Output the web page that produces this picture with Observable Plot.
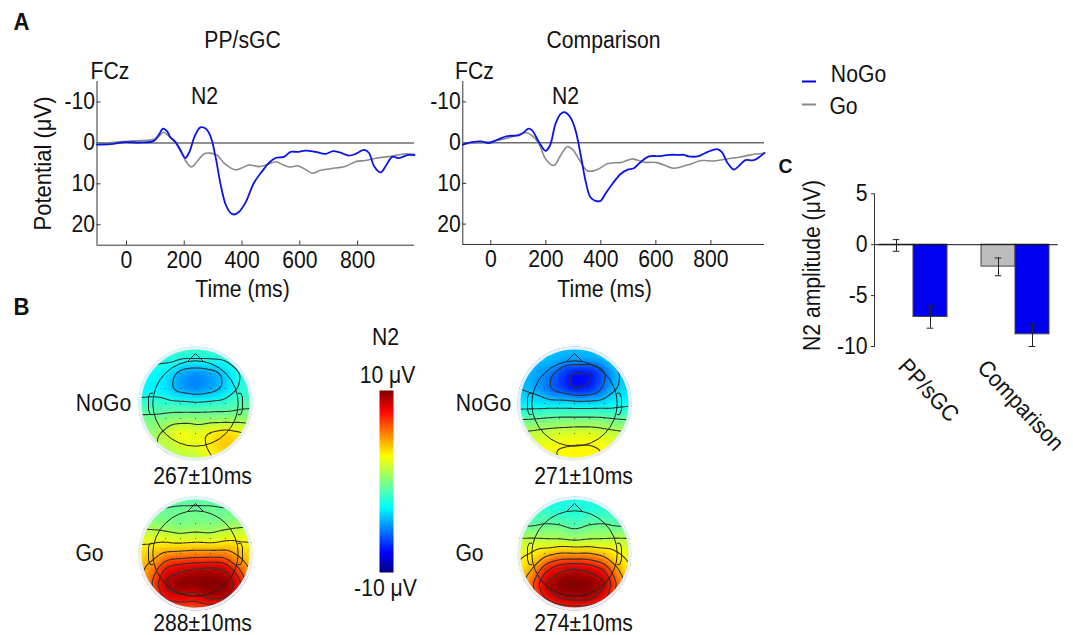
<!DOCTYPE html>
<html>
<head>
<meta charset="utf-8">
<script src="https://cdn.jsdelivr.net/npm/d3@7"></script>
<script src="https://cdn.jsdelivr.net/npm/@observablehq/plot@0.6"></script>
<style>
html,body{margin:0;padding:0;background:#fff}
#page{position:relative;width:1073px;height:635px;overflow:hidden;background:#fff}
#page svg{position:absolute}
</style>
</head>
<body>
<div id="page"></div>
<script>
// ---------- Panel A: event-related potentials at FCz ----------
const ppNoGoTime = [-102,-55,-3,48,95,112,127,141,152,170,187,204,219,236,256,274,291,308,326,343,360,372,389,412,441,470,493,516,545,568,591,620,655,689,715,741,770,793,822,839,857,880,897,920,943,972,997];
const ppNoGo = [0.4,0.3,-0.2,-0.1,-0.5,-2,-3.5,-2.8,-1.4,-0.2,1.9,3.7,2,-1.6,-3.8,-3.5,-1.6,3.3,10.2,15,17.1,17.5,16.9,14.6,9.8,6.9,4.9,3.7,3.4,2.2,2.2,1.9,2.2,2.7,2,2.4,3.1,2.7,1.7,2.4,5.7,7.2,5.7,3.4,3.7,3,3];
const ppGoTime = [-102,-3,95,112,129,147,170,187,204,225,245,268,291,314,337,360,378,401,424,459,488,517,540,564,592,620,643,672,707,759,793,828,868,914,961,997];
const ppGo = [0.2,-0.4,-0.9,-1.6,-2.6,-1.6,0,1.6,4.3,5.9,4.5,2.7,2.5,3,4.9,6.1,6.6,6.1,5.4,5.8,5.3,4.6,5.3,5.9,5.6,6.5,7.4,6.7,6.3,5.7,4.6,4.3,3.7,3.3,2.7,2.8];
const cmpNoGoTime = [-102,-68,-38,-7,23,59,102,120,135,150,175,199,215,235,253,268,290,308,326,344,362,381,399,417,441,472,496,520,544,575,617,647,684,702,720,756,781,823,841,859,884,902,926,956,995];
const cmpNoGo = [0.5,-0.1,-0.3,0.1,-0.7,-1.6,-1.8,-2.5,-3.4,-3,-0.1,2,0.7,-4.6,-7,-7.5,-6.1,-3,2.8,9.3,13.4,14.3,14.3,12.5,10.2,7.7,6.7,6.3,4.8,3.4,3.3,3,3,3,3.4,3.3,2.5,1.6,2.4,4.8,6.6,5.7,4.3,4.3,2.5];
const cmpGoTime = [-102,-1,59,102,126,150,175,199,229,253,278,296,320,350,375,399,423,478,514,556,605,665,714,768,811,859,902,944,995];
const cmpGo = [0.3,-0.2,-1.1,-2,-2.5,-1.7,0.3,4,5.6,3.2,1,1.6,4,6.9,6.9,6.2,5.2,4.8,4,4.8,4.9,6.3,5.5,4.4,4.5,4,3.6,3,2.6];
const timeTicks = [0,200,400,600,800];
const potentialTicks = [-10,0,10,20];

// ---------- Panel C: N2 amplitude ----------
const barKeys = ["PP/sGC Go","PP/sGC NoGo","gap","Comparison Go","Comparison NoGo"];
const barValues = [-0.05,-7.1,null,-2.15,-8.8];
const barLow = [-0.65,-8.2,null,-3.05,-10];
const barHigh = [0.5,-6.0,null,-1.3,-7.8];
const barColors = ["#bdbdbd","#0000f0",null,"#bdbdbd","#0000f0"];
const amplitudeTicks = [5,0,-5,-10];

// ---------- Panel B: scalp potential, estimated on a grid (rows top to bottom) ----------
const gridX = [-1.4,-1.05,-0.7,-0.35,0,0.35,0.7,1.05,1.4];
const gridY = [1.4,1.05,0.7,0.35,0,-0.35,-0.7,-1.05,-1.4];
const ppNoGoMap = [
 -1.4,-1.4,-1.4,-1.4,-1.4,-1.4,-1.4,-1.4,-1.4,
 -1.9,-1.9,-2,-2.1,-2.1,-2.1,-2,-1.9,-1.8,
 -2.8,-2.7,-3,-4.7,-5.2,-4.7,-3.8,-2.2,-1.9,
 -3.2,-3,-3.4,-4.8,-5.4,-4.8,-3.8,-2,-1.6,
 -1.7,-1.7,-1.7,-1.8,-2,-1.8,-1.6,-1.2,-1,
 -0.2,-0.2,0,0.2,0.3,0.3,0.2,0.4,0.4,
 0.4,0.5,1.6,2.9,2.2,3.2,3.8,3.2,2.4,
 0.9,0.9,1.1,1.8,2,3.1,4,3.8,3,
 1,1,1,1,1.1,2.4,3.2,3.3,3];
const ppGoMap = [
 -1,-1,-1,-1,-1,-1,-1,-1,-1,
 -0.7,-0.7,-0.6,-0.5,-0.5,-0.5,-0.6,-0.7,-0.7,
 0.8,0.4,0,-0.4,0,-0.2,0.2,0.6,0.8,
 2.3,2.1,2.2,1.8,2,1.8,2.4,2.4,2.5,
 3.2,3.8,4.8,5,5.2,5.2,5.2,4,3,
 3.6,5,7.8,8.5,8.9,9.2,8.8,6,3.6,
 3.6,6,9.3,10,10,10,10,8,4,
 3.5,5,8,8.4,8,9.2,9.2,7,4.5,
 3,3.5,4.5,5,5,5,4.5,4,3.5];
const cmpNoGoMap = [
 -3.5,-3.7,-3.9,-4,-4.1,-4,-3.9,-3.7,-3.5,
 -3.8,-3.9,-3.9,-4.2,-4.3,-4.3,-3.9,-3.8,-3.6,
 -4,-4.2,-5,-6.4,-7.8,-7.8,-6,-3.9,-3.6,
 -4,-4.3,-5.3,-6.6,-7.8,-7.3,-5.5,-3.8,-3.4,
 -3.3,-3.2,-3.2,-3.2,-3.3,-3.3,-3.2,-2.8,-2.5,
 -0.8,-0.7,-0.5,-0.3,-0.3,-0.3,-0.4,-0.7,-0.9,
 1.4,1.5,1.8,2,2.2,2.2,1.8,1.5,1.3,
 1.8,2.2,2.6,2.9,3,3,2.8,2.4,2,
 2.5,2.6,2.7,2.8,2.8,2.8,2.7,2.6,2.5];
const cmpGoMap = [
 -2.2,-2.2,-2.2,-2.2,-2.2,-2.2,-2.2,-2.2,-2.2,
 -2,-2,-2,-2.2,-2.2,-2.2,-2,-2,-2,
 -1.2,-1,-0.6,-0.7,-1.3,-0.7,-0.6,-1,-1.2,
 1.2,1.2,1,0.9,0.5,0.9,1,1.2,1.2,
 2.2,2.8,3.8,4.6,4.5,4.6,3.8,2.8,2.2,
 2.6,4,7,8.5,9,8.5,7.4,4.2,2.6,
 2.8,5.5,9,10,10,10,9.4,5.6,3,
 2.8,4.6,7.6,9,9.4,9.4,8,5,3.2,
 3,3.5,4.5,5.5,5.8,5.5,5,4,3.2];
const contourLevels = [-7.4,-5.7,-4,-2.3,-0.6,1.1,2.8,4.5,6.2,7.5,8.8];
const jetStops = [-10,-7.8,-2.8,0,2.8,7.8,10];
const jetColors = ["#00007f","#0000ff","#00ffff","#80ff80","#ffff00","#ff0000","#7f0000"];
const noseOutline = [[-0.17,1],[0,1.17],[0.17,1]];
const earOutline = [[1,0.24],[1.06,0.24],[1.1,0.15],[1.1,-0.15],[1.06,-0.26],[1,-0.26]];

// ---------- Text ----------
const FONT = "'Liberation Sans',Arial,sans-serif";
const boldLabels = [
 {t:"A",x:21,y:22,s:24,r:0},{t:"B",x:21,y:307,s:24,r:0},{t:"C",x:785,y:166,s:21,r:0}
];
const plainLabels = [
 {t:"PP/sGC",x:242,y:40,s:23,r:0},{t:"Comparison",x:603,y:40,s:23,r:0},
 {t:"FCz",x:109.5,y:71,s:23,r:0},{t:"FCz",x:474,y:71,s:23,r:0},
 {t:"N2",x:204,y:96,s:23,r:0},{t:"N2",x:565,y:96,s:23,r:0},
 {t:"Time (ms)",x:242,y:289,s:23,r:0},{t:"Time (ms)",x:604,y:289,s:23,r:0},
 {t:"Potential (μV)",x:43,y:163,s:24,r:-90},
 {t:"N2 amplitude (μV)",x:812,y:265,s:23,r:-90},
 {t:"PP/sGC",x:928,y:390,s:23,r:47},{t:"Comparison",x:1020,y:405,s:23,r:47},
 {t:"NoGo",x:858,y:74,s:23,r:0},{t:"Go",x:843,y:106,s:23,r:0},
 {t:"NoGo",x:103,y:403,s:23,r:0},{t:"Go",x:89,y:553,s:23,r:0},
 {t:"NoGo",x:483,y:403,s:23,r:0},{t:"Go",x:469,y:553,s:23,r:0},
 {t:"267±10ms",x:202,y:476,s:23,r:0},{t:"288±10ms",x:202,y:623,s:23,r:0},
 {t:"271±10ms",x:583,y:476,s:23,r:0},{t:"274±10ms",x:583,y:623,s:23,r:0},
 {t:"N2",x:385,y:337,s:23,r:0},{t:"10 μV",x:387,y:375,s:23,r:0},{t:"-10 μV",x:385,y:588,s:23,r:0}
];
const legendLines = [{x1:802,x2:816,y:81,c:"#0000f0"},{x1:802,x2:816,y:104,c:"#888888"}];

const page = document.getElementById("page");
const baseStyle = {background:"transparent",overflow:"visible",fontFamily:FONT,fontSize:"23px",color:"#111"};
function place(svg,left,top){svg.style.left=left+"px";svg.style.top=top+"px";page.appendChild(svg);}

// Panel A
function erpPanel(left,top,width,height,m,xDomain,noGoT,noGo,goT,go){
  const rows=(t,v)=>t.map((d,i)=>({t:d,v:v[i]}));
  return place(Plot.plot({
    width,height,marginLeft:m[0],marginRight:m[1],marginTop:m[2],marginBottom:m[3],style:baseStyle,
    x:{domain:xDomain},y:{domain:[25,-15]},
    marks:[
      Plot.axisX({ticks:timeTicks,tickSize:0,tickPadding:6,label:null}),
      Plot.axisY({ticks:potentialTicks,tickSize:0,tickPadding:2,label:null,tickFormat:d=>String(d)}),
      Plot.ruleX(timeTicks,{y1:25,y2:24,stroke:"#333"}),
      Plot.ruleY(potentialTicks,{x1:xDomain[0],x2:xDomain[0]+14,stroke:"#333"}),
      Plot.ruleX([xDomain[0]],{stroke:"#333"}),
      Plot.ruleY([25],{stroke:"#333"}),
      Plot.ruleY([0],{stroke:"#6b6b6b",strokeWidth:1.5}),
      Plot.line(rows(goT,go),{x:"t",y:"v",stroke:"#8a8a8a",strokeWidth:1.6,curve:"catmull-rom"}),
      Plot.line(rows(noGoT,noGo),{x:"t",y:"v",stroke:"#0a14e6",strokeWidth:1.8,curve:"catmull-rom"})
    ]
  }),left,top);
}
erpPanel(0,0,430,310,[96.5,16,81,65.3],[-102,997],ppNoGoTime,ppNoGo,ppGoTime,ppGo);
erpPanel(430,0,344,310,[32.3,10,81,66],[-102,995],cmpNoGoTime,cmpNoGo,cmpGoTime,cmpGo);

// Panel B: topographies
function topo(cx,cy,values){
  const samples=[];
  gridY.forEach((y,r)=>gridX.forEach((x,c)=>samples.push({x,y,v:values[r*gridX.length+c]})));
  const bounds={x1:-1.405,x2:1.405,y1:-1.405,y2:1.405};
  const ear=s=>earOutline.map(([x,y])=>({x:s*x,y}));
  const nose=noseOutline.map(([x,y])=>({x,y}));
  const line=d=>Plot.line(d,{x:"x",y:"y",stroke:"#222",strokeWidth:1});
  return place(Plot.plot({
    width:120,height:120,margin:0,style:baseStyle,
    x:{domain:[-1.405,1.405],axis:null},y:{domain:[-1.405,1.405],axis:null},
    color:{type:"linear",domain:jetStops,range:jetColors},
    marks:[
      Plot.raster(samples,{x:"x",y:"y",fill:"v",interpolate:"barycentric",pixelSize:1,blur:3,...bounds}),
      Plot.contour(samples,{x:"x",y:"y",value:"v",interpolate:"barycentric",pixelSize:1,blur:3,thresholds:contourLevels,stroke:"#333",strokeWidth:1.1,fill:"none",...bounds}),
      Plot.dot(samples.filter(d=>d.x*d.x+d.y*d.y<0.95),{x:"x",y:"y",r:0.5,fill:"#333"}),
      Plot.dot([0],{x:()=>0,y:()=>0,r:72,stroke:"#fff",strokeWidth:30,fill:"none"}),
      Plot.dot([0],{x:()=>0,y:()=>0,r:55.5,stroke:"#e6effa",strokeWidth:3,fill:"none"}),
      Plot.dot([0],{x:()=>0,y:()=>0,r:42.7,stroke:"#222",strokeWidth:1,fill:"none"}),
      line(nose),line(ear(1)),line(ear(-1))
    ]
  }),cx-60,cy-60);
}
topo(195,403.3,ppNoGoMap);
topo(195,553.3,ppGoMap);
topo(574,403.3,cmpNoGoMap);
topo(574,552.7,cmpGoMap);

// Colour bar
place(Plot.plot({
  width:14,height:182,margin:0,style:baseStyle,
  x:{domain:[0,1],axis:null},y:{domain:[-10,10],axis:null},
  color:{type:"linear",domain:jetStops,range:jetColors},
  marks:[Plot.raster({x1:0,x2:1,y1:-10,y2:10,pixelSize:1,fill:(x,y)=>y})]
}),379,390);

// Panel C
const bars=barKeys.map((k,i)=>({k,v:barValues[i],lo:barLow[i],hi:barHigh[i],c:barColors[i]})).filter(d=>d.v!==null);
place(Plot.plot({
  width:273,height:200,marginLeft:74,marginRight:15.3,marginTop:23.3,marginBottom:24,style:baseStyle,
  x:{domain:barKeys,range:[76.7,250.3],padding:0,axis:null},
  y:{domain:[-10,5]},
  marks:[
    Plot.axisY({ticks:amplitudeTicks,tickSize:3,tickPadding:4,label:null,tickFormat:d=>String(d),stroke:"#333"}),
    Plot.barY(bars,{x:"k",y:"v",fill:"c",stroke:"#444",strokeWidth:1}),
    Plot.frame({anchor:"left",stroke:"#333"}),
    Plot.ruleY([0],{stroke:"#111",strokeWidth:1}),
    Plot.ruleX(bars,{x:"k",y1:"lo",y2:"hi",stroke:"#222",strokeWidth:1}),
    Plot.tickY(bars,{x:"k",y:"lo",insetLeft:13.7,insetRight:13.7,stroke:"#222",strokeWidth:1}),
    Plot.tickY(bars,{x:"k",y:"hi",insetLeft:13.7,insetRight:13.7,stroke:"#222",strokeWidth:1})
  ]
}),800,170);

// Labels and legend
const labelOptions={x:"x",y:"y",text:"t",rotate:"r",fontSize:"s",fill:"#111",textAnchor:"middle",lineAnchor:"middle"};
place(Plot.plot({
  width:1073,height:635,margin:0,style:baseStyle,
  x:{type:"identity",axis:null},y:{type:"identity",axis:null},
  marks:[
    Plot.ruleY(legendLines,{x1:"x1",x2:"x2",y:"y",stroke:"c",strokeWidth:2}),
    Plot.text(plainLabels,labelOptions),
    Plot.text(boldLabels,{...labelOptions,fontWeight:"bold"})
  ]
}),0,0);

// The reference's lettering is slightly condensed
page.querySelectorAll("text").forEach(el=>{
  const len=el.getComputedTextLength();
  el.setAttribute("textLength",(len*0.92).toFixed(1));
  el.setAttribute("lengthAdjust","spacingAndGlyphs");
});
</script>
</body>
</html>
